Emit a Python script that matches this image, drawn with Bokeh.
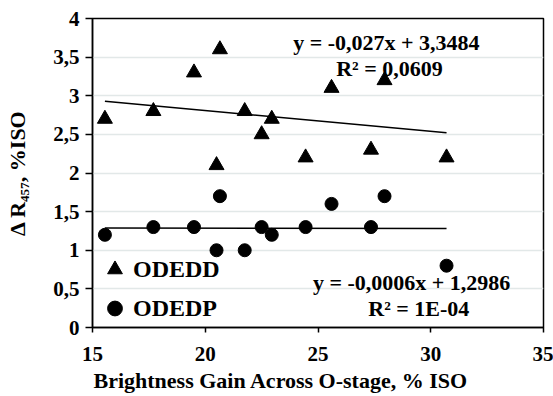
from bokeh.plotting import figure
from bokeh.models import (Range1d, FixedTicker, CustomJSTickFormatter, Label,
                          Legend, LegendItem, ColumnDataSource, Title)
from bokeh.embed import file_html
from bokeh.resources import INLINE
import numpy as np

# ---- data ----
gain = [15.55, 17.7, 19.5, 20.5, 20.65, 21.75, 22.5, 22.95, 24.45, 25.6, 27.35, 27.95, 30.7]
odedd = [2.7, 2.8, 3.3, 2.1, 3.6, 2.8, 2.5, 2.7, 2.2, 3.1, 2.3, 3.2, 2.2]
odedp = [1.2, 1.3, 1.3, 1.0, 1.7, 1.0, 1.3, 1.2, 1.3, 1.6, 1.3, 1.7, 0.8]

series_names = ["ODEDD", "ODEDP"]
trend_slope = [-0.027, -0.0006]
trend_intercept = [3.3484, 1.2986]
eq_texts = ["y = -0,027x + 3,3484", "y = -0,0006x + 1,2986"]
r2_texts = ["R\u00b2 = 0,0609", "R\u00b2 = 1E-04"]

x_title = "Brightness Gain Across O-stage, % ISO"
y_title = "\u0394 R\u2084\u2085\u2087, %ISO"

x_ticks = [15, 20, 25, 30, 35]
y_ticks = [0, 0.5, 1, 1.5, 2, 2.5, 3, 3.5, 4]

FONT = "Liberation Serif"

p = figure(width=553, height=396, x_range=Range1d(15, 35), y_range=Range1d(0, 4),
           output_backend="svg", toolbar_location=None,
           min_border_left=92, min_border_right=10, min_border_top=18, min_border_bottom=69)

p.background_fill_color = "white"
p.border_fill_color = "white"
p.outline_line_color = "black"
p.outline_line_width = 1.5
p.outline_line_alpha = 1

# grid
p.xgrid.visible = False
p.ygrid.ticker = FixedTicker(ticks=y_ticks)
p.ygrid.grid_line_color = "#e2e8e8"
p.ygrid.grid_line_width = 1.5

fmt = CustomJSTickFormatter(code="return tick.toString().replace('.', ',');")

p.xaxis.ticker = FixedTicker(ticks=x_ticks)
p.yaxis.ticker = FixedTicker(ticks=y_ticks)
p.xaxis.formatter = fmt
p.yaxis.formatter = fmt

for ax in (p.xaxis[0], p.yaxis[0]):
    ax.axis_line_color = "black"
    ax.axis_line_width = 1.5
    ax.major_tick_line_color = "black"
    ax.major_tick_line_width = 1.5
    ax.major_tick_in = 0
    ax.minor_tick_line_color = None
    ax.major_label_text_font = FONT
    ax.major_label_text_font_style = "bold"
    ax.major_label_text_font_size = "21px"
    ax.major_label_text_color = "black"
    ax.axis_label_text_font = FONT
    ax.axis_label_text_font_style = "bold"
    ax.axis_label_text_font_size = "22px"
    ax.axis_label_text_color = "black"

p.xaxis.major_tick_out = 5
p.yaxis.major_tick_out = 7
p.xaxis.major_label_standoff = 14
p.yaxis.major_label_standoff = 6
p.yaxis.axis_label = y_title
p.yaxis.axis_label_standoff = 20

# x title, left-aligned under the frame like the reference
xt = Title(text=x_title, align="left", offset=1, standoff=5,
           text_font=FONT, text_font_style="bold", text_font_size="22px",
           text_color="black")
p.add_layout(xt, "below")

src = ColumnDataSource(dict(x=gain, d=odedd, pp=odedp))
r_tri = p.scatter("x", "d", source=src, marker="triangle", size=15,
                  fill_color="black", line_color="black")
r_circ = p.scatter("x", "pp", source=src, marker="circle", size=13,
                   fill_color="black", line_color="black")

# trend lines
xs = np.array([min(gain), max(gain)])
for k in range(2):
    p.line(xs, trend_slope[k] * xs + trend_intercept[k], line_color="black", line_width=1.5)

# equation labels
eq_pos = [(28.03, 3.69), (29.15, 0.585)]
r2_pos = [(28.17, 3.355), (29.47, 0.245)]
for k in range(2):
    for txt, (lx, ly) in ((eq_texts[k], eq_pos[k]), (r2_texts[k], r2_pos[k])):
        p.add_layout(Label(x=lx, y=ly, text=txt, text_align="center", text_baseline="middle",
                           text_font=FONT, text_font_style="bold", text_font_size="22px",
                           text_color="black"))

legend = Legend(items=[LegendItem(label=series_names[0], renderers=[r_tri]),
                       LegendItem(label=series_names[1], renderers=[r_circ])],
                location=(4, 0), orientation="vertical")
legend.glyph_width = 37
legend.glyph_height = 38
legend.spacing = 1
legend.padding = 0
legend.margin = 0
legend.label_standoff = 0
legend.label_text_font = FONT
legend.label_text_font_style = "bold"
legend.label_text_font_size = "24px"
legend.label_text_color = "black"
legend.border_line_color = None
legend.background_fill_alpha = 0
p.add_layout(legend, "center")

open("out.html", "w").write(file_html(p, INLINE))
